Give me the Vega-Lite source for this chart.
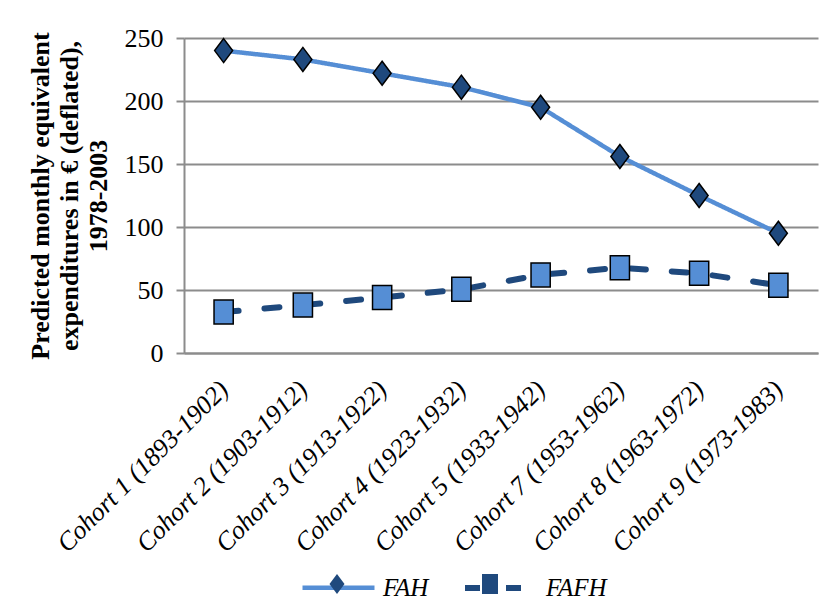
{
  "$schema": "https://vega.github.io/schema/vega-lite/v6.json",
  "width": 634,
  "height": 315,
  "autosize": {"type": "none"},
  "padding": {"left": 184, "top": 38, "right": 11, "bottom": 247},
  "background": "white",
  "config": {"view": {"stroke": null}, "font": "Liberation Serif", "legend": {"symbolBaseFillColor": "#1F497D"}},
  "data": {
    "values": [
      {"cohort": "Cohort 1 (1893-1902)", "series": "FAH", "value": 240},
      {"cohort": "Cohort 2 (1903-1912)", "series": "FAH", "value": 233},
      {"cohort": "Cohort 3 (1913-1922)", "series": "FAH", "value": 222},
      {"cohort": "Cohort 4 (1923-1932)", "series": "FAH", "value": 211},
      {"cohort": "Cohort 5 (1933-1942)", "series": "FAH", "value": 195},
      {"cohort": "Cohort 7 (1953-1962)", "series": "FAH", "value": 156},
      {"cohort": "Cohort 8 (1963-1972)", "series": "FAH", "value": 125},
      {"cohort": "Cohort 9 (1973-1983)", "series": "FAH", "value": 95},
      {"cohort": "Cohort 1 (1893-1902)", "series": "FAFH", "value": 32.5},
      {"cohort": "Cohort 2 (1903-1912)", "series": "FAFH", "value": 38},
      {"cohort": "Cohort 3 (1913-1922)", "series": "FAFH", "value": 44},
      {"cohort": "Cohort 4 (1923-1932)", "series": "FAFH", "value": 50.5},
      {"cohort": "Cohort 5 (1933-1942)", "series": "FAFH", "value": 62},
      {"cohort": "Cohort 7 (1953-1962)", "series": "FAFH", "value": 67.7},
      {"cohort": "Cohort 8 (1963-1972)", "series": "FAFH", "value": 63.2},
      {"cohort": "Cohort 9 (1973-1983)", "series": "FAFH", "value": 53.7}
    ]
  },
  "encoding": {
    "x": {
      "field": "cohort",
      "type": "nominal",
      "sort": null,
      "scale": {"type": "point", "padding": 0.5},
      "axis": {
        "title": null,
        "labelAngle": -45,
        "labelAlign": "right",
        "labelBaseline": "middle",
        "labelFont": "Liberation Serif",
        "labelFontStyle": "italic",
        "labelFontSize": 26,
        "labelColor": "black",
        "labelPadding": 32,
        "labelLimit": 0,
        "ticks": false,
        "domainColor": "#8c8c8c",
        "domainWidth": 2,
        "grid": false
      }
    },
    "y": {
      "field": "value",
      "type": "quantitative",
      "scale": {"domain": [0, 250], "nice": false},
      "axis": {
        "title": ["Predicted monthly equivalent", "expenditures in € (deflated),", "1978-2003"],
        "titleFont": "Liberation Serif",
        "titleFontSize": 26,
        "titleFontWeight": "bold",
        "titleColor": "black",
        "titleLineHeight": 29,
        "titlePadding": 13,
        "values": [0, 50, 100, 150, 200, 250],
        "labelFont": "Liberation Serif",
        "labelFontSize": 26,
        "labelColor": "black",
        "labelPadding": 13,
        "tickColor": "#8c8c8c",
        "tickSize": 8,
        "tickWidth": 2,
        "domainColor": "#8c8c8c",
        "domainWidth": 2,
        "gridColor": "#8c8c8c",
        "gridWidth": 2
      }
    }
  },
  "layer": [
    {
      "mark": {"type": "line", "strokeCap": "round", "strokeJoin": "round"},
      "encoding": {
        "color": {
          "field": "series",
          "type": "nominal",
          "scale": {"domain": ["FAH", "FAFH"], "range": ["#558ED5", "#1F497D"]},
          "legend": {
            "orient": "none",
            "legendX": 116,
            "legendY": 511,
            "direction": "horizontal",
            "title": null,
            "padding": 0,
            "symbolType": "stroke",
            "symbolSize": 5184,
            "symbolStrokeWidth": 5,
            "labelFont": "Liberation Serif",
            "labelFontStyle": "italic",
            "labelFontSize": 25,
            "labelColor": "black",
            "labelOffset": 6,
            "columnPadding": 24,
            "zindex": 1
          }
        },
        "strokeDash": {
          "field": "series",
          "type": "nominal",
          "scale": {"domain": ["FAH", "FAFH"], "range": [[1, 0], [15, 26]]},
          "legend": null
        },
        "strokeWidth": {
          "field": "series",
          "type": "ordinal",
          "scale": {"domain": ["FAH", "FAFH"], "range": [4.5, 6]},
          "legend": null
        }
      }
    },
    {
      "mark": {"type": "point", "filled": true, "stroke": "black", "strokeWidth": 1.5, "opacity": 1, "size": 576},
      "encoding": {
        "shape": {
          "field": "series",
          "type": "nominal",
          "sort": ["FAH", "FAFH"],
          "scale": {"range": ["M0,-1L0.75,0L0,1L-0.75,0Z", "M-0.8,-1L0.8,-1L0.8,1L-0.8,1Z"]},
          "legend": {
            "orient": "none",
            "legendX": 142,
            "legendY": 535,
            "direction": "horizontal",
            "title": null,
            "padding": 0,
            "symbolSize": 400,
            "symbolStrokeColor": "black",
            "symbolStrokeWidth": 1.5,
            "symbolOpacity": 1,
            "labelExpr": "''",
            "labelOffset": 0,
            "columnPadding": 131,
            "zindex": 2,
            "encode": {
              "symbols": {
                "fill": {"value": {"expr": "datum.value === 'FAH' ? '#1F497D' : '#558ED5'"}},
                "fillOpacity": {"value": 1}
              }
            }
          }
        },
        "fill": {
          "field": "series",
          "type": "nominal",
          "sort": ["FAH", "FAFH"],
          "scale": {"range": ["#1F497D", "#558ED5"]},
          "legend": null
        }
      }
    }
  ]
}
